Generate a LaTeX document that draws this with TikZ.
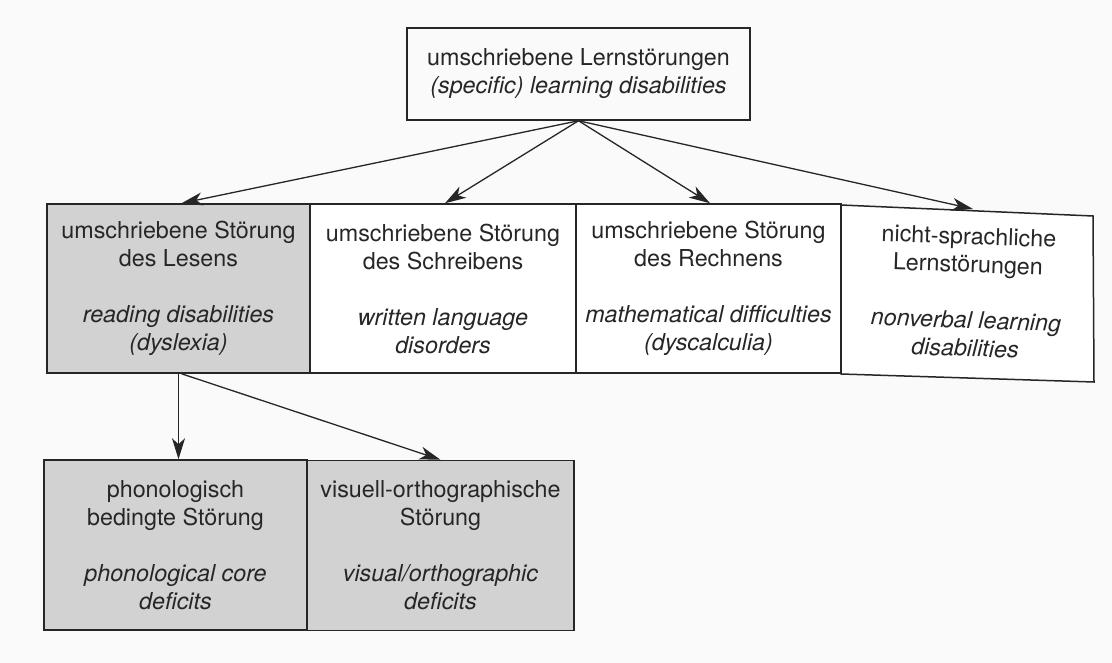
\documentclass[tikz,border=0pt]{standalone}
\usepackage{fontspec}
\setmainfont{TeX Gyre Heros}
\usetikzlibrary{arrows.meta}
\definecolor{boxgray}{HTML}{D2D2D2}
\definecolor{ink}{HTML}{262626}
\definecolor{paper}{HTML}{FAFAFA}
\begin{document}
\begin{tikzpicture}[x=1pt,y=-1pt,
  box/.style={draw=ink, line width=1.5pt, align=center, inner sep=0pt, text=ink,
    font=\fontsize{23.3}{28}\selectfont},
  shaded/.style={box, fill=boxgray},
  arr/.style={draw=ink, line width=1.3pt, -{Stealth[length=21pt,width=13pt,inset=6pt]}}]
\useasboundingbox[fill=paper] (0,0) rectangle (1112,663);

% top box
\node[box, minimum width=343pt, minimum height=92pt] (top) at (578.5,74)
  {umschriebene Lernstörungen\\\textit{(specific) learning disabilities}};

% middle row
\node[shaded, minimum width=263pt, minimum height=169pt] (b1) at (178.5,288.5)
  {umschriebene Störung\\des Lesens\\[28pt]\textit{reading disabilities}\\\textit{(dyslexia)}};
\node[box, fill=white, minimum width=266pt, minimum height=169pt] (b2) at (443,288.5)
  {umschriebene Störung\\des Schreibens\\[28pt]\textit{written language}\\\textit{disorders}};
\node[box, fill=white, minimum width=265pt, minimum height=169pt] (b3) at (708.5,288.5)
  {umschriebene Störung\\des Rechnens\\[28pt]\textit{mathematical difficulties}\\\textit{(dyscalculia)}};
\draw[draw=ink, line width=1.5pt, fill=white] (841,205) -- (1093,216) -- (1094,382) -- (841,374) -- cycle;
\node[box, draw=none, rotate=-2] (b4) at (967,292)
  {nicht-sprachliche\\Lernstörungen\\[28pt]\textit{nonverbal learning}\\\textit{disabilities}};
\coordinate (b4top) at (973,209);

% bottom row
\node[shaded, minimum width=263pt, minimum height=170pt] (c1) at (175.5,545)
  {phonologisch\\bedingte Störung\\[28pt]\textit{phonological core}\\\textit{deficits}};
\node[shaded, minimum width=267pt, minimum height=170pt] (c2) at (440.5,545.5)
  {visuell-orthographische\\Störung\\[28pt]\textit{visual/orthographic}\\\textit{deficits}};

% connectors
\draw[arr] (top.south) -- ([xshift=3pt]b1.north);
\draw[arr] (top.south) -- ([xshift=2pt]b2.north);
\draw[arr] (top.south) -- ([xshift=1.5pt]b3.north);
\draw[arr] (top.south) -- (b4top);
\draw[arr] (b1.south) -- (b1.south |- c1.north);
\draw[arr] ([xshift=3pt]b1.south) -- (c2.north);
\end{tikzpicture}
\end{document}
